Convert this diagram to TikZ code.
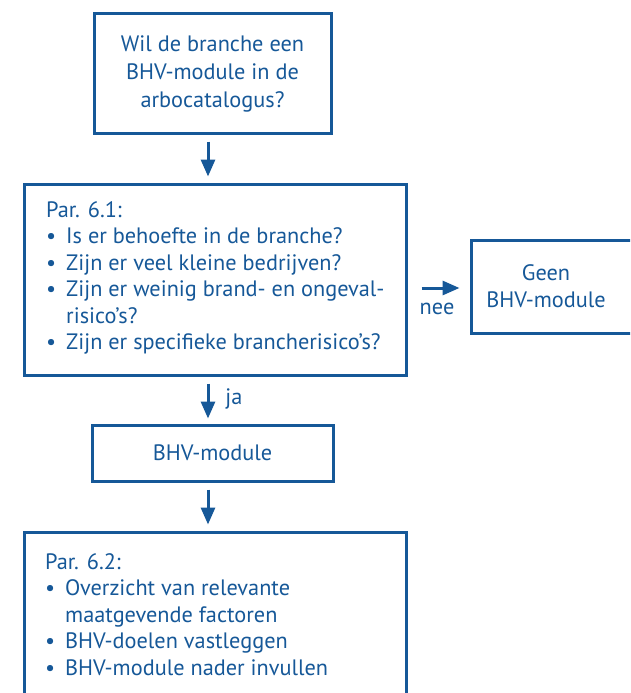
\documentclass[tikz,border=0pt]{standalone}
\usepackage{fontspec}
\setmainfont{PT Sans}
\usetikzlibrary{arrows.meta}
\definecolor{rblue}{RGB}{22,88,152}
\newcommand{\bul}{\makebox[20pt][l]{•}}
\tikzset{
  box/.style={draw=rblue, line width=3pt, inner sep=0pt},
  txt/.style={text=rblue, font=\fontsize{22.3}{26.5}\selectfont, inner sep=0pt},
  flow/.style={draw=rblue, line width=3pt, -{Triangle[length=17pt,width=14pt]}},
}
\begin{document}
\begin{tikzpicture}[x=1pt,y=-1pt]
\useasboundingbox (0,0) rectangle (630,693);
\begin{scope}
\clip (0,0) rectangle (630,693);
\node[box, minimum width=237pt, minimum height=119pt] (q) at (212.5,73.5) {};
\node[txt, align=center, font=\fontsize{22.3}{28}\selectfont] (qt) at (212.5,73.5) {Wil de branche een\\BHV-module in de\\arbocatalogus?};
\node[box, minimum width=382pt, minimum height=191pt] (p1) at (215,279.5) {};
\node[txt, align=left, anchor=north west] (p1t) at (46,201) {Par. 6.1:\\
\bul Is er behoefte in de branche?\\
\bul Zijn er veel kleine bedrijven?\\
\bul Zijn er weinig brand- en ongeval-\\
\hspace*{20pt}risico’s?\\
\bul Zijn er specifieke brancherisico’s?};
\node[box, minimum width=175pt, minimum height=93pt] (g) at (558.5,286.5) {};
\node[txt, align=center] (gt) at (546,286) {Geen\\BHV-module};
\node[box, minimum width=241pt, minimum height=56pt] (m) at (212.5,453) {};
\node[txt] (mt) at (212.5,453) {BHV-module};
\node[box, minimum width=382pt, minimum height=180pt] (p2) at (215,622) {};
\node[txt, align=left, anchor=north west] (p2t) at (45,553) {Par. 6.2:\\
\bul Overzicht van relevante\\
\hspace*{20pt}maatgevende factoren\\
\bul BHV-doelen vastleggen\\
\bul BHV-module nader invullen};
\end{scope}
\draw[flow] ([xshift=-4.5pt,yshift=-7pt]q.south) -- ([xshift=-7pt,yshift=6pt]p1.north);
\draw[flow] ([xshift=-7pt,yshift=-7pt]p1.south) -- ([xshift=-4.5pt,yshift=5pt]m.north);
\draw[flow] ([xshift=-4.5pt,yshift=-7pt]m.south) -- ([xshift=-7pt,yshift=6pt]p2.north);
\draw[flow] ([xshift=14pt,yshift=-1.5pt]p1.east |- g.west) -- ([xshift=-10pt,yshift=-1.5pt]g.west);
\node[txt] (nee) at (437,309) {nee};
\node[txt] (ja) at (234,399) {ja};
\end{tikzpicture}
\end{document}
